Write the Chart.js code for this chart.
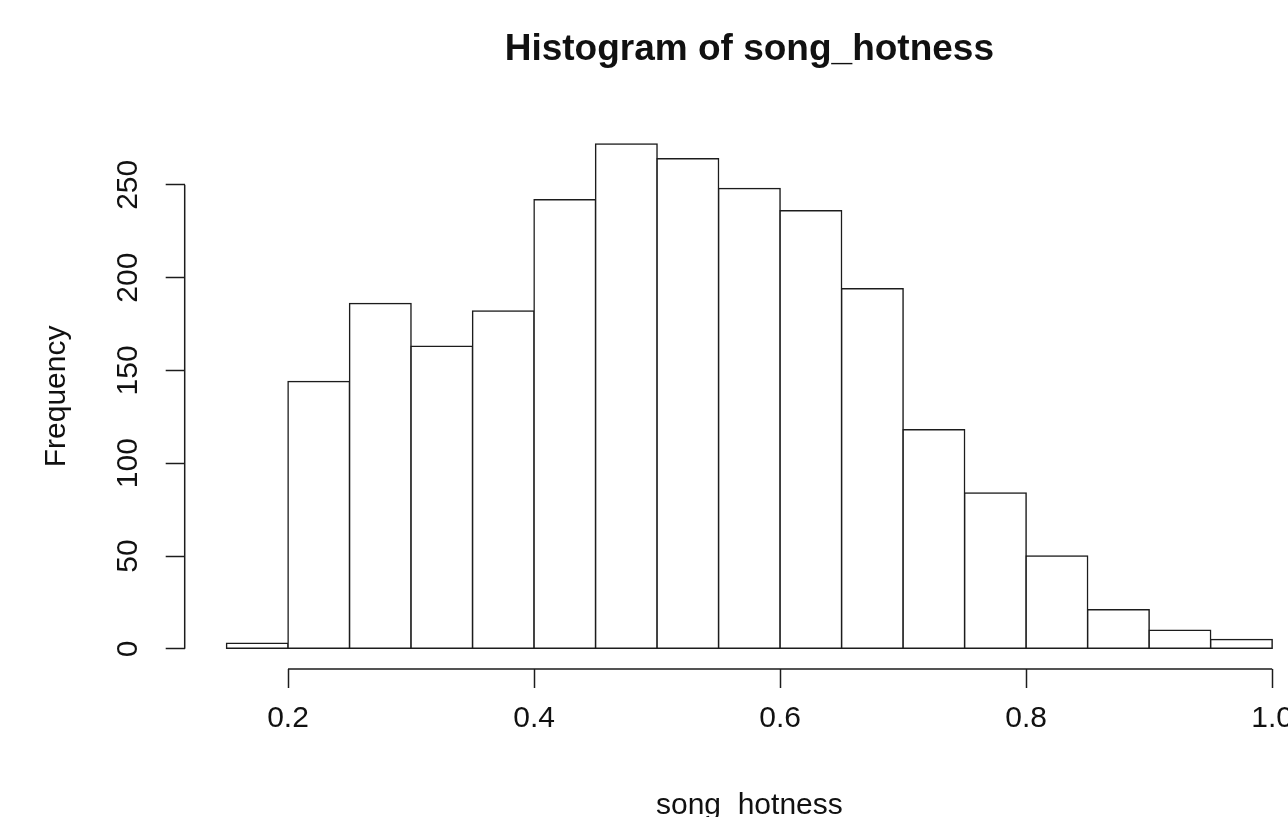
<!DOCTYPE html>
<html lang="en">
<head>
    <meta charset="UTF-8">
    <title>Histogram of song_hotness</title>
    <script src="https://cdn.jsdelivr.net/npm/chart.js"></script>
    <style>
        body {
            margin: 0;
            padding: 0;
            background: #ffffff;
            overflow: hidden;
        }

        canvas {
            display: block;
        }
    </style>
</head>
<body>

    <canvas id="histChart" width="1340" height="840"></canvas>

    <script>
        // Bin edges (left side) and counts
        const binStarts = [0.15, 0.20, 0.25, 0.30, 0.35, 0.40, 0.45, 0.50, 0.55, 0.60, 0.65, 0.70, 0.75, 0.80, 0.85, 0.90, 0.95];
        const counts = [3, 144, 186, 163, 182, 242, 272, 264, 248, 236, 194, 118, 84, 50, 21, 10, 5];
        const binWidth = 0.05;

        // Axis tick labels
        const xTicks = [0.2, 0.4, 0.6, 0.8, 1.0];
        const yTicks = [0, 50, 100, 150, 200, 250];

        const lineColor = '#1c1c1c';
        const textColor = '#111';
        const fontFamily = '"Liberation Sans", Arial, Helvetica, sans-serif';

        // R style plot region: data range plus 4% on each side
        const xLo = binStarts[0];
        const xHi = binStarts[binStarts.length - 1] + binWidth;
        const xPad = (xHi - xLo) * 0.04;
        const yTop = Math.max(...counts);
        const yPad = yTop * 0.04;

        const points = binStarts.map((b, i) => ({ x: b + binWidth / 2, y: counts[i] }));

        // draws the detached R axis lines, from first to last tick only
        const rAxisLines = {
            id: 'rAxisLines',
            afterDraw(chart) {
                const { ctx, chartArea, scales } = chart;
                ctx.save();
                ctx.strokeStyle = lineColor;
                ctx.lineWidth = 1.5;
                ctx.beginPath();
                ctx.moveTo(scales.x.getPixelForValue(xTicks[0]), chartArea.bottom);
                ctx.lineTo(scales.x.getPixelForValue(xTicks[xTicks.length - 1]), chartArea.bottom);
                ctx.moveTo(chartArea.left, scales.y.getPixelForValue(yTicks[0]));
                ctx.lineTo(chartArea.left, scales.y.getPixelForValue(yTicks[yTicks.length - 1]));
                ctx.stroke();
                ctx.restore();
            }
        };

        new Chart(document.getElementById('histChart').getContext('2d'), {
            type: 'bar',
            data: {
                datasets: [{
                    label: 'song_hotness',
                    data: points,
                    backgroundColor: '#ffffff',
                    borderColor: lineColor,
                    borderSkipped: false,
                    borderWidth: 1.5,
                    // push the border out by half its width so shared edges overlap into one line
                    inflateAmount: 0.75,
                    barPercentage: 1.0,
                    categoryPercentage: 1.0
                }]
            },
            options: {
                responsive: false,
                animation: false,
                layout: {
                    padding: { left: 0, right: 26, top: 0, bottom: 0 }
                },
                plugins: {
                    legend: { display: false },
                    tooltip: { enabled: false },
                    title: {
                        display: true,
                        fullSize: false,
                        text: 'Histogram of song_hotness',
                        color: textColor,
                        font: { family: fontFamily, size: 37, weight: 'bold' },
                        padding: { top: 28, bottom: 51.4 }
                    }
                },
                scales: {
                    x: {
                        type: 'linear',
                        min: xLo - xPad,
                        max: xHi + xPad,
                        offset: false,
                        afterBuildTicks: scale => {
                            scale.ticks = xTicks.map(v => ({ value: v }));
                        },
                        afterFit: scale => {
                            scale.height = 171;
                        },
                        grid: {
                            offset: false,
                            drawOnChartArea: false,
                            drawTicks: true,
                            tickLength: 19,
                            tickWidth: 1.5,
                            tickColor: lineColor
                        },
                        border: { display: false },
                        ticks: {
                            padding: 12.5,
                            color: textColor,
                            font: { family: fontFamily, size: 30 },
                            maxRotation: 0,
                            callback: v => v.toFixed(1)
                        },
                        title: {
                            display: true,
                            text: 'song_hotness',
                            color: textColor,
                            font: { family: fontFamily, size: 30 },
                            padding: { top: 0, bottom: 16.5 }
                        }
                    },
                    y: {
                        min: -yPad,
                        max: yTop + yPad,
                        afterBuildTicks: scale => {
                            scale.ticks = yTicks.map(v => ({ value: v }));
                        },
                        afterFit: scale => {
                            scale.width = 184.7;
                        },
                        grid: {
                            drawOnChartArea: false,
                            drawTicks: true,
                            tickLength: 19,
                            tickWidth: 1.5,
                            tickColor: lineColor
                        },
                        border: { display: false },
                        ticks: {
                            padding: 12,
                            color: textColor,
                            font: { family: fontFamily, size: 30 },
                            minRotation: 90,
                            maxRotation: 90,
                            crossAlign: 'center'
                        },
                        title: {
                            display: true,
                            text: 'Frequency',
                            color: textColor,
                            font: { family: fontFamily, size: 30 },
                            padding: { top: 38.5, bottom: 0 }
                        }
                    }
                }
            },
            plugins: [rAxisLines]
        });
    </script>

</body>
</html>
